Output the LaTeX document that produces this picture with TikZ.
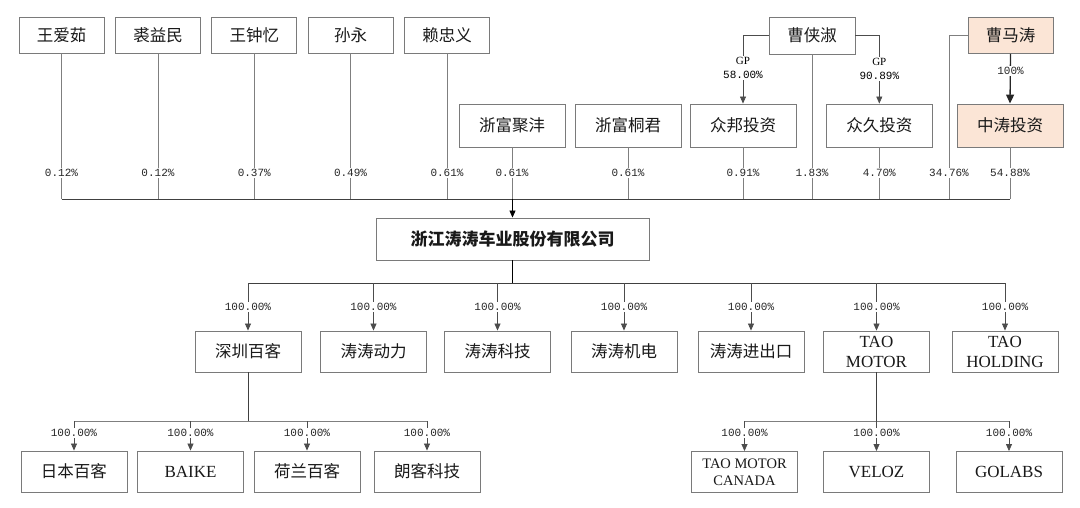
\documentclass[tikz,border=0pt]{standalone}
\usepackage{fontspec}
\setmainfont{Liberation Serif}
\newfontfamily\cjk{Noto Sans CJK SC}
\newfontfamily\pctf{Liberation Mono}
\usetikzlibrary{arrows.meta}
\definecolor{boxgray}{HTML}{7A7A7A}
\definecolor{linegray}{HTML}{7F7F7F}
\definecolor{peach}{HTML}{FBE5D6}
\begin{document}
\begin{tikzpicture}[x=1pt,y=-1pt,
  box/.style={draw=boxgray,line width=0.9pt,fill=white,inner sep=0pt,align=center,text=black!90},
  topbox/.style={box,minimum width=85pt,minimum height=36pt,font=\cjk\fontsize{16.5}{18}\selectfont},
  midbox/.style={box,minimum width=106pt,minimum height=43pt,font=\cjk\fontsize{16.5}{18}\selectfont},
  childbox/.style={box,minimum width=106pt,minimum height=41pt,font=\cjk\fontsize{16.5}{18}\selectfont},
  latin/.style={font=\fontsize{17}{20}\selectfont},
  hot/.style={fill=peach},
  pct/.style={fill=white,inner sep=1pt,font=\pctf\fontsize{11}{12}\selectfont,text=black!85},
  conn/.style={draw=linegray,line width=0.7pt},
  bus/.style={draw=black!75,line width=0.9pt},
  arr/.style={-{Triangle[width=6pt,length=7pt]}},
]
\useasboundingbox (0,0) rectangle (1080,508);

% ---- top row
\node[topbox] (wai) at (61.5,35) {王爱茹};
\node[topbox] (qiu) at (158,35) {裘益民};
\node[topbox] (wzy) at (254.3,35) {王钟忆};
\node[topbox] (sun) at (350.5,35) {孙永};
\node[topbox] (lai) at (447,35) {赖忠义};
\node[topbox,minimum width=86pt,minimum height=37pt] (cxs) at (812,35.5) {曹侠淑};
\node[topbox,hot] (cmt) at (1010.5,35.5) {曹马涛};

% ---- second row
\node[midbox] (zfjf) at (512,125.5) {浙富聚沣};
\node[midbox] (zftj) at (628,125.5) {浙富桐君};
\node[midbox] (zb) at (743,125.5) {众邦投资};
\node[midbox] (zj) at (879.3,125.5) {众久投资};
\node[midbox,hot] (zt) at (1010,125.5) {中涛投资};

% ---- main company
\node[box,minimum width=273pt,minimum height=42pt,font=\cjk\bfseries\fontsize{17}{19}\selectfont] (main) at (512.5,239) {浙江涛涛车业股份有限公司};

% ---- children
\node[childbox] (szbk) at (248,351.5) {深圳百客};
\node[childbox] (ttdl) at (373.5,351.5) {涛涛动力};
\node[childbox] (ttkj) at (497.5,351.5) {涛涛科技};
\node[childbox] (ttjd) at (624,351.5) {涛涛机电};
\node[childbox] (ttjck) at (751,351.5) {涛涛进出口};
\node[childbox,latin] (taom) at (876.5,351.5) {TAO\\MOTOR};
\node[childbox,latin] (taoh) at (1005,351.5) {TAO\\HOLDING};

% ---- grandchildren
\node[childbox] (rbbk) at (74,471.5) {日本百客};
\node[childbox,latin] (baike) at (190.5,471.5) {BAIKE};
\node[childbox] (hlbk) at (307,471.5) {荷兰百客};
\node[childbox] (lkkj) at (427,471.5) {朗客科技};
\node[childbox,font=\fontsize{14.5}{17}\selectfont] (tmc) at (744.5,472) {TAO MOTOR\\CANADA};
\node[childbox,latin] (veloz) at (876.5,472) {VELOZ};
\node[childbox,latin] (golabs) at (1009,472) {GOLABS};

% ---- helper coordinates
\coordinate (busA) at (512.5,199);
\coordinate (lblA) at (0,173);
\coordinate (busB) at (512.5,283);
\coordinate (lblB) at (0,307);
\coordinate (busC) at (248,421);
\coordinate (busD) at (876.5,421);
\coordinate (lblC) at (0,433);
\coordinate (cmtdrop) at (949,199);

% ---- shareholders to bus
\foreach \n in {wai,qiu,wzy,sun,lai,zfjf,zftj,zb,cxs,zj,zt}
  \draw[conn] (\n.south) -- (\n.south |- busA);
\draw[conn] (cmt.west) -| (cmtdrop);
\draw[bus] (wai.south |- busA) -- (zt.south |- busA);
\draw[bus,arr,draw=black] (busA) -- (main.north);

\node[pct] at (wai.south |- lblA) {0.12\%};
\node[pct] at (qiu.south |- lblA) {0.12\%};
\node[pct] at (wzy.south |- lblA) {0.37\%};
\node[pct] at (sun.south |- lblA) {0.49\%};
\node[pct] at (lai.south |- lblA) {0.61\%};
\node[pct] at (zfjf.south |- lblA) {0.61\%};
\node[pct] at (zftj.south |- lblA) {0.61\%};
\node[pct] at (zb.south |- lblA) {0.91\%};
\node[pct] at (cxs.south |- lblA) {1.83\%};
\node[pct] at (zj.south |- lblA) {4.70\%};
\node[pct] at (cmtdrop |- lblA) {34.76\%};
\node[pct] at (zt.south |- lblA) {54.88\%};

% ---- GP links
\draw[conn,arr,draw=black!70] (cxs.west) -| (zb.north);
\draw[conn,arr,draw=black!70] (cxs.east) -| (zj.north);
\node[fill=white,inner sep=1pt,align=center,font=\fontsize{11}{14}\selectfont] at (zb.north |- 0,68) {GP\\{\pctf 58.00\%}};
\node[fill=white,inner sep=1pt,align=center,font=\fontsize{11}{14}\selectfont] at (zj.north |- 0,69) {GP\\{\pctf 90.89\%}};

% ---- 曹马涛 -> 中涛投资
\draw[black!85,line width=1.3pt,-{Triangle[width=8pt,length=9pt]}] (cmt.south) -- (zt.north);
\node[pct] at (cmt.south |- 0,71) {100\%};

% ---- main to children
\draw[bus,draw=black] (main.south) -- (busB);
\draw[bus] (szbk.north |- busB) -- (taoh.north |- busB);
\foreach \n in {szbk,ttdl,ttkj,ttjd,ttjck,taom,taoh}{
  \draw[conn,arr,draw=black!70] (\n.north |- busB) -- (\n.north);
  \node[pct] at (\n.north |- lblB) {100.00\%};
}

% ---- 深圳百客 children
\draw[bus] (szbk.south) -- (busC);
\draw[conn] (rbbk.north |- busC) -- (lkkj.north |- busC);
\foreach \n in {rbbk,baike,hlbk,lkkj}{
  \draw[conn,arr,draw=black!70] (\n.north |- busC) -- (\n.north);
  \node[pct] at (\n.north |- lblC) {100.00\%};
}

% ---- TAO MOTOR children
\draw[bus] (taom.south) -- (busD);
\draw[conn] (tmc.north |- busD) -- (golabs.north |- busD);
\foreach \n in {tmc,veloz,golabs}{
  \draw[conn,arr,draw=black!70] (\n.north |- busD) -- (\n.north);
  \node[pct] at (\n.north |- lblC) {100.00\%};
}
\end{tikzpicture}
\end{document}
